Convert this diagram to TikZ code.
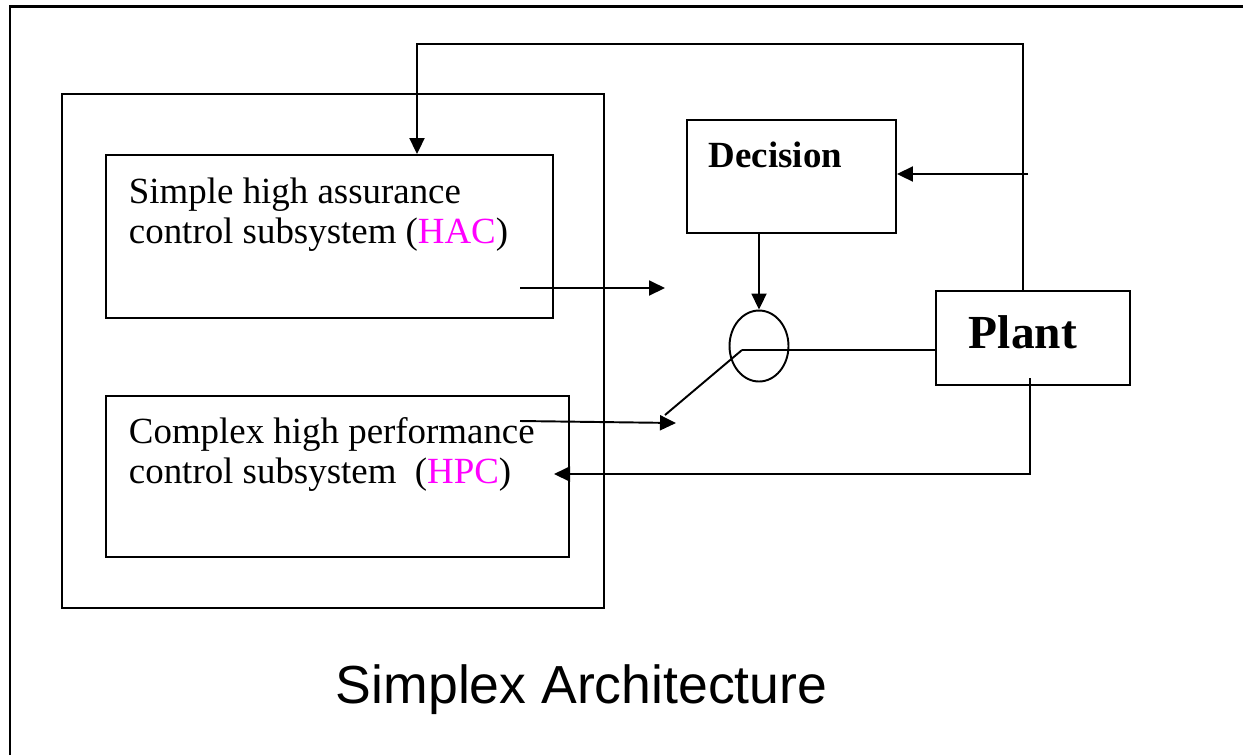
\documentclass[tikz,border=0pt]{standalone}
\usepackage{fontspec}
\setmainfont{Liberation Serif}
\newfontfamily\titlefont{Liberation Sans}
\usepackage{tikz}
\usetikzlibrary{arrows.meta,shapes.geometric}
\definecolor{acro}{RGB}{255,0,255}

\begin{document}
\begin{tikzpicture}[x=0.02cm,y=-0.02cm,line width=1.1pt,>={Triangle[length=0.32cm,width=0.3cm]}]
            \tikzset{blk/.style={draw,rectangle,inner sep=0pt},
                     txt/.style={anchor=base west,inner sep=0pt,font=\fontsize{21}{25}\selectfont}}
            \useasboundingbox (0,0) rectangle (1243,755);
            \draw[line width=1.7pt] (10,755) -- (10,6) -- (1243,6);
            \node[blk,minimum width=10.84cm,minimum height=10.28cm] (outer) at (333,351) {};
            \node[blk,minimum width=8.94cm,minimum height=3.26cm] (hac) at (329.5,236.5) {};
            \node[blk,minimum width=9.26cm,minimum height=3.22cm] (hpc) at (337.5,476.5) {};
            \node[blk,minimum width=4.18cm,minimum height=2.26cm] (dec) at (791.5,176.5) {};
            \node[blk,minimum width=3.88cm,minimum height=1.88cm] (plant) at (1033,338) {};
            \node[draw,ellipse,minimum width=1.18cm,minimum height=1.42cm,inner sep=0pt] (sw) at (759,346) {};
            \node[txt] (hac1) at (128,203) {Simple high assurance};
            \node[txt] (hac2) at (128,243) {control subsystem (\textcolor{acro}{HAC})};
            \node[txt] (hpc1) at (128,443) {Complex high performance};
            \node[txt] (hpc2) at (128,483) {control subsystem~~(\textcolor{acro}{HPC})};
            \node[txt,font=\bfseries\fontsize{21}{25}\selectfont] (declbl) at (708,167) {Decision};
            \node[txt,font=\bfseries\fontsize{27}{32}\selectfont] (plantlbl) at (968,348) {Plant};
            \node[txt,font=\titlefont\fontsize{30.5}{36}\selectfont] (title) at (335,703) {Simplex Architecture};
            \coordinate (hacout) at (520,288);
            \coordinate (hacend) at (665,288);
            \coordinate (hpcout) at (520,421);
            \coordinate (hpcend) at (676,423);
            \coordinate (pivot) at (742,350);
            \coordinate (swend) at (665,415);
            \coordinate (fbA) at (1023,291);
            \coordinate (fbB) at (417,44);
            \coordinate (tap) at (1028,174);
            \coordinate (fbC) at (1030,378);
            \coordinate (fbD) at (554,474);
            \draw[->] (hacout) -- (hacend);
            \draw[->] (hpcout) -- (hpcend);
            \draw (pivot) -- (swend);
            \draw (pivot) -- (pivot -| plant.west);
            \draw[->] (sw.north |- dec.south) -- (sw.north);
            \draw[->] (fbA) |- (fbB) -- (fbB |- hac.north);
            \draw[->] (tap) -- (tap -| dec.east);
            \draw[->] (fbC) |- (fbD);
        \end{tikzpicture}
\end{document}
